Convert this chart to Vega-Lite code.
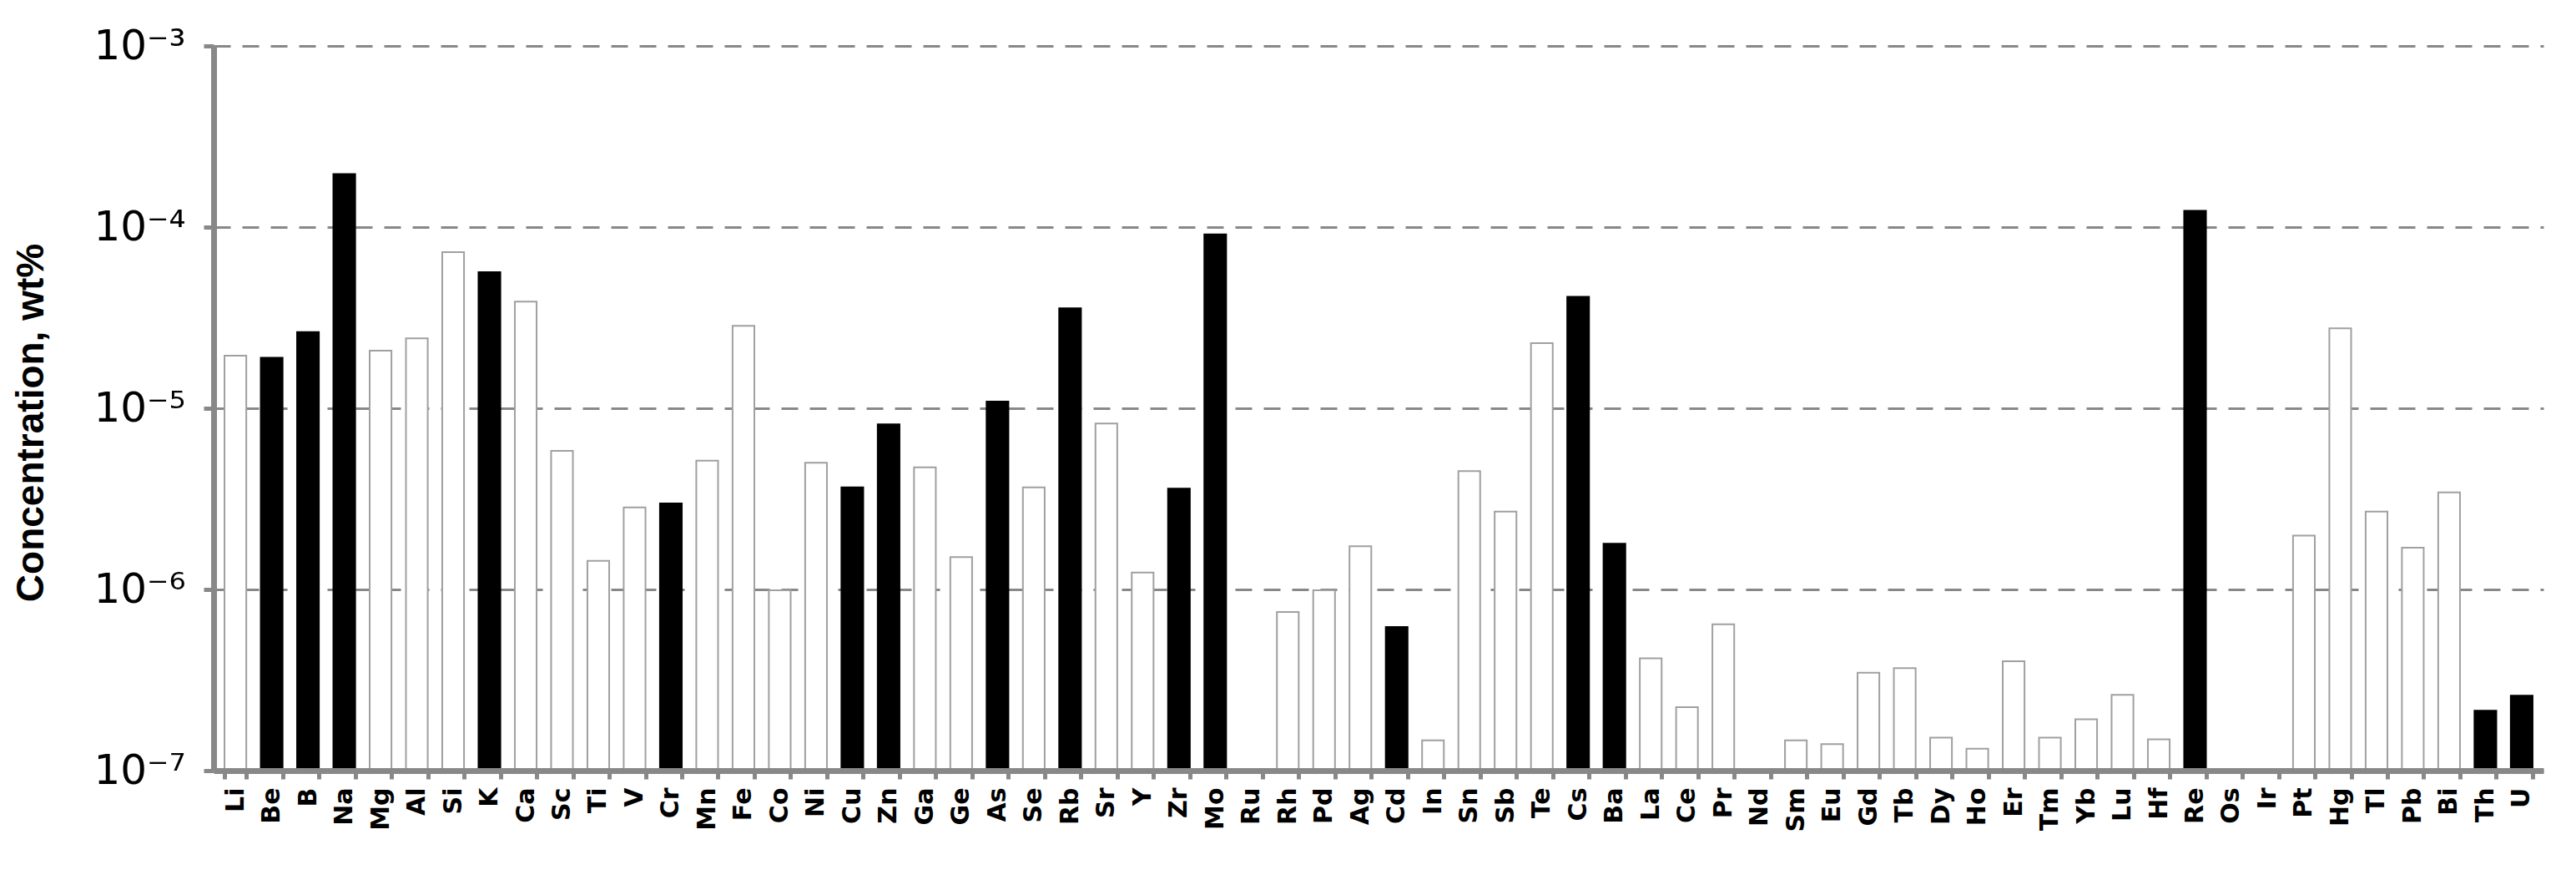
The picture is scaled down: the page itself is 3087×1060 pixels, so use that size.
{
  "$schema": "https://vega.github.io/schema/vega-lite/v6.json",
  "autosize": {"type": "none"},
  "padding": {"left": 256, "top": 55, "right": 39, "bottom": 137},
  "width": 2792,
  "height": 868,
  "background": "white",
  "config": {"view": {"stroke": null}},
  "data": {"values": [
    {"el": "Li", "v": 1.95e-5, "g": "w"},
    {"el": "Be", "v": 1.90e-5, "g": "b"},
    {"el": "B", "v": 2.63e-5, "g": "b"},
    {"el": "Na", "v": 1.96e-4, "g": "b"},
    {"el": "Mg", "v": 2.08e-5, "g": "w"},
    {"el": "Al", "v": 2.43e-5, "g": "w"},
    {"el": "Si", "v": 7.27e-5, "g": "w"},
    {"el": "K", "v": 5.64e-5, "g": "b"},
    {"el": "Ca", "v": 3.88e-5, "g": "w"},
    {"el": "Sc", "v": 5.82e-6, "g": "w"},
    {"el": "Ti", "v": 1.44e-6, "g": "w"},
    {"el": "V", "v": 2.84e-6, "g": "w"},
    {"el": "Cr", "v": 2.98e-6, "g": "b"},
    {"el": "Mn", "v": 5.14e-6, "g": "w"},
    {"el": "Fe", "v": 2.85e-5, "g": "w"},
    {"el": "Co", "v": 9.9e-7, "g": "w"},
    {"el": "Ni", "v": 5.01e-6, "g": "w"},
    {"el": "Cu", "v": 3.66e-6, "g": "b"},
    {"el": "Zn", "v": 8.15e-6, "g": "b"},
    {"el": "Ga", "v": 4.72e-6, "g": "w"},
    {"el": "Ge", "v": 1.51e-6, "g": "w"},
    {"el": "As", "v": 1.09e-5, "g": "b"},
    {"el": "Se", "v": 3.66e-6, "g": "w"},
    {"el": "Rb", "v": 3.56e-5, "g": "b"},
    {"el": "Sr", "v": 8.23e-6, "g": "w"},
    {"el": "Y", "v": 1.24e-6, "g": "w"},
    {"el": "Zr", "v": 3.60e-6, "g": "b"},
    {"el": "Mo", "v": 9.12e-5, "g": "b"},
    {"el": "Ru", "v": null, "g": "w"},
    {"el": "Rh", "v": 7.5e-7, "g": "w"},
    {"el": "Pd", "v": 9.9e-7, "g": "w"},
    {"el": "Ag", "v": 1.73e-6, "g": "w"},
    {"el": "Cd", "v": 6.2e-7, "g": "b"},
    {"el": "In", "v": 1.47e-7, "g": "w"},
    {"el": "Sn", "v": 4.5e-6, "g": "w"},
    {"el": "Sb", "v": 2.69e-6, "g": "w"},
    {"el": "Te", "v": 2.29e-5, "g": "w"},
    {"el": "Cs", "v": 4.12e-5, "g": "b"},
    {"el": "Ba", "v": 1.79e-6, "g": "b"},
    {"el": "La", "v": 4.17e-7, "g": "w"},
    {"el": "Ce", "v": 2.24e-7, "g": "w"},
    {"el": "Pr", "v": 6.42e-7, "g": "w"},
    {"el": "Nd", "v": null, "g": "w"},
    {"el": "Sm", "v": 1.47e-7, "g": "w"},
    {"el": "Eu", "v": 1.40e-7, "g": "w"},
    {"el": "Gd", "v": 3.47e-7, "g": "w"},
    {"el": "Tb", "v": 3.68e-7, "g": "w"},
    {"el": "Dy", "v": 1.52e-7, "g": "w"},
    {"el": "Ho", "v": 1.32e-7, "g": "w"},
    {"el": "Er", "v": 4.01e-7, "g": "w"},
    {"el": "Tm", "v": 1.52e-7, "g": "w"},
    {"el": "Yb", "v": 1.92e-7, "g": "w"},
    {"el": "Lu", "v": 2.62e-7, "g": "w"},
    {"el": "Hf", "v": 1.49e-7, "g": "w"},
    {"el": "Re", "v": 1.23e-4, "g": "b"},
    {"el": "Os", "v": null, "g": "w"},
    {"el": "Ir", "v": null, "g": "w"},
    {"el": "Pt", "v": 1.98e-6, "g": "w"},
    {"el": "Hg", "v": 2.76e-5, "g": "w"},
    {"el": "Tl", "v": 2.69e-6, "g": "w"},
    {"el": "Pb", "v": 1.70e-6, "g": "w"},
    {"el": "Bi", "v": 3.43e-6, "g": "w"},
    {"el": "Th", "v": 2.14e-7, "g": "b"},
    {"el": "U", "v": 2.59e-7, "g": "b"}
  ]},
  "transform": [{"filter": "datum.v != null"}],
  "mark": {"type": "bar", "strokeWidth": 2},
  "encoding": {
    "x": {
      "field": "el", "type": "nominal", "sort": null,
      "scale": {"domain": ["Li","Be","B","Na","Mg","Al","Si","K","Ca","Sc","Ti","V","Cr","Mn","Fe","Co","Ni","Cu","Zn","Ga","Ge","As","Se","Rb","Sr","Y","Zr","Mo","Ru","Rh","Pd","Ag","Cd","In","Sn","Sb","Te","Cs","Ba","La","Ce","Pr","Nd","Sm","Eu","Gd","Tb","Dy","Ho","Er","Tm","Yb","Lu","Hf","Re","Os","Ir","Pt","Hg","Tl","Pb","Bi","Th","U"], "paddingInner": 0.4, "paddingOuter": 0.3},
      "axis": {
        "zindex": 1,
        "title": null, "labelAngle": -90, "labelFont": "DejaVu Sans", "labelFontWeight": "bold", "labelFontSize": 30, "labelColor": "#000",
        "tickBand": "extent", "tickSize": 10, "tickWidth": 5, "tickColor": "#888", "domainColor": "#888", "domainWidth": 7, "labelPadding": 10, "grid": false
      }
    },
    "y": {
      "field": "v", "type": "quantitative",
      "scale": {"type": "log", "domain": [1e-7, 1e-3], "nice": false},
      "axis": {
        "values": [1e-7, 1e-6, 1e-5, 1e-4, 1e-3],
        "labelExpr": "'10⁻' + ['⁰','¹','²','³','⁴','⁵','⁶','⁷'][-round(log(datum.value)/LN10)]",
        "labelFont": "DejaVu Sans", "labelFontSize": 50, "labelColor": "#000", "labelPadding": 22, "labelBaseline": "middle",
        "tickSize": 12, "tickWidth": 5, "tickColor": "#888", "domainColor": "#888", "domainWidth": 7,
        "grid": true, "gridColor": "#888", "gridWidth": 3, "gridDash": [20, 14],
        "title": "Concentration, wt%", "titleFont": "Liberation Sans", "titleFontSize": 46, "titleFontWeight": "bold", "titleColor": "#000",
        "titleX": -219, "titleY": 451, "titleAngle": -90, "titleAlign": "center", "titleBaseline": "middle"
      }
    },
    "y2": {"datum": 1e-7},
    "fill": {"field": "g", "type": "nominal", "scale": {"domain": ["w", "b"], "range": ["#ffffff", "#000000"]}, "legend": null},
    "stroke": {"field": "g", "type": "nominal", "scale": {"domain": ["w", "b"], "range": ["#a0a0a0", "#000000"]}, "legend": null}
  }
}
